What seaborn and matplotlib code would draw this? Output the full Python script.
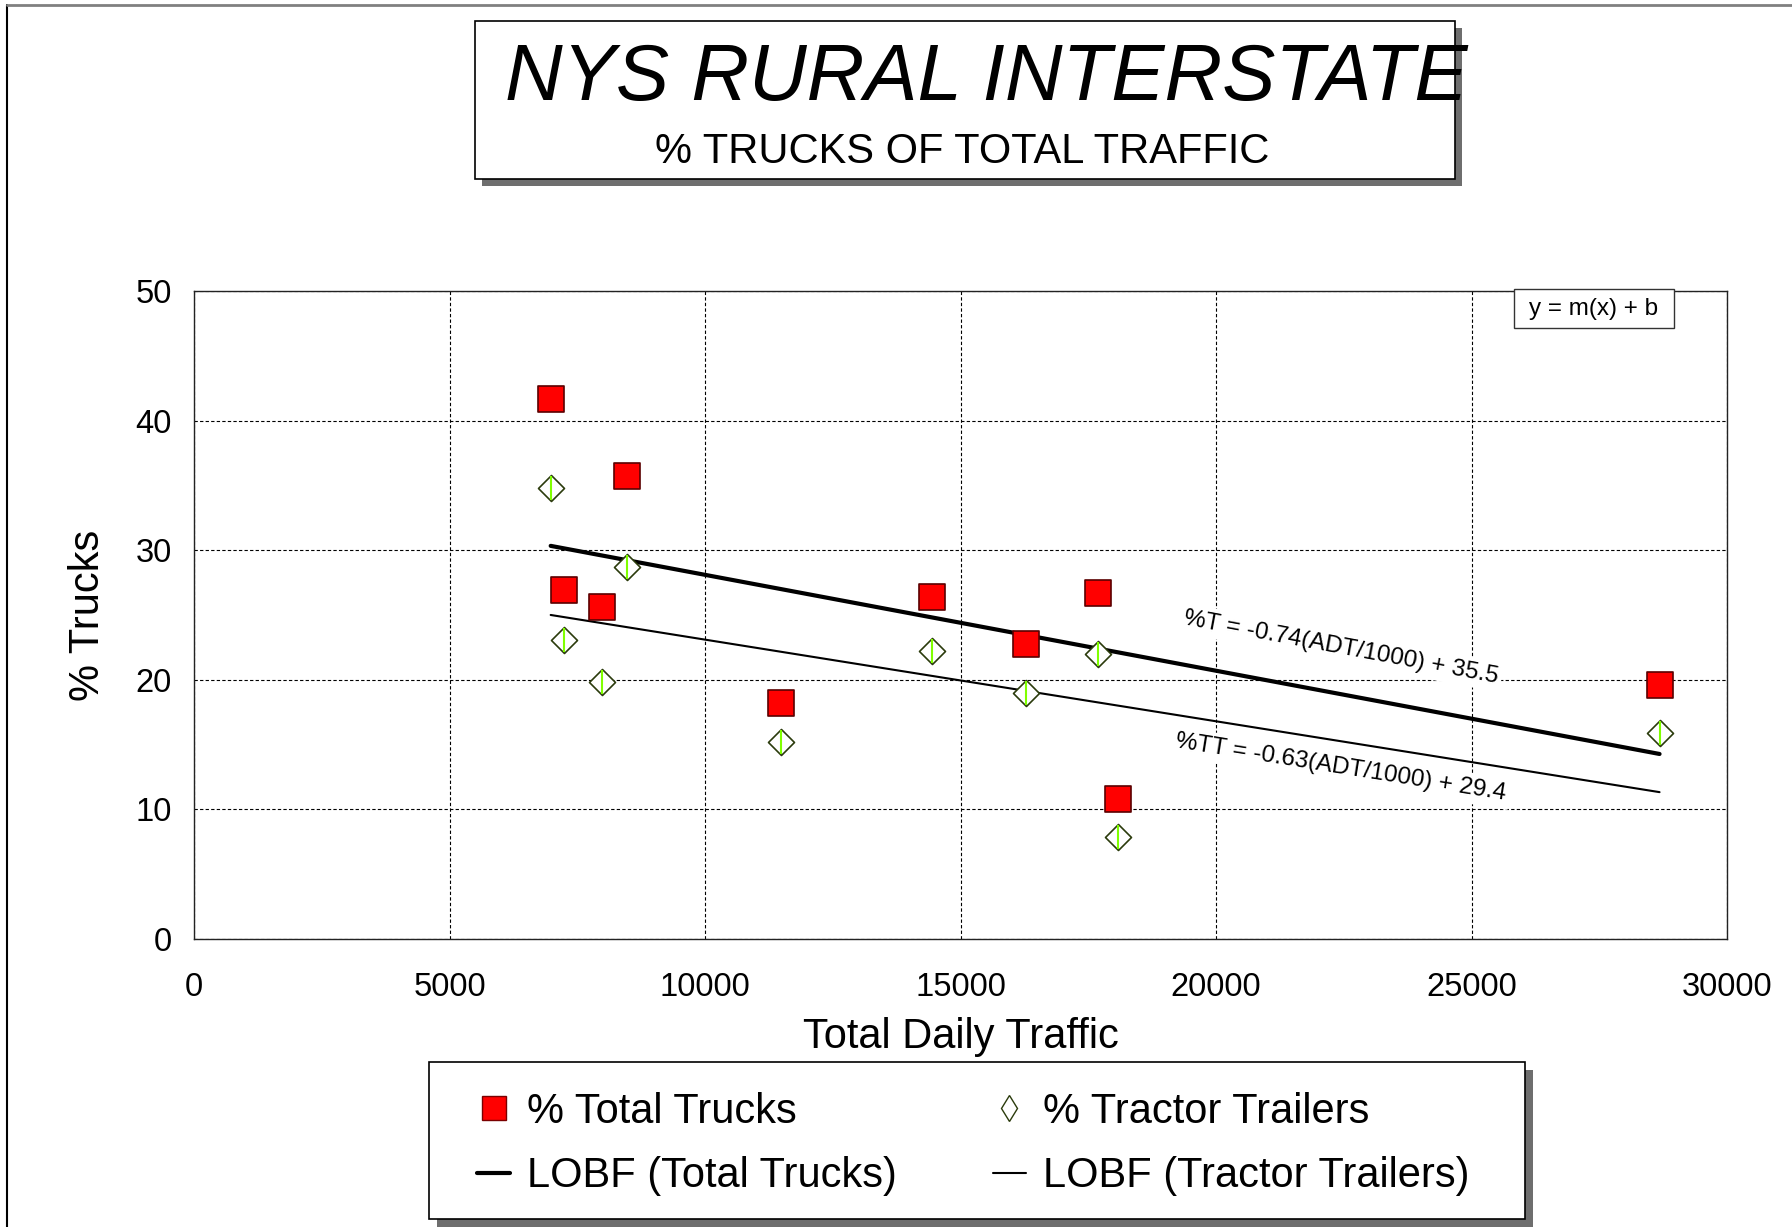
import numpy as np
import pandas as pd
import matplotlib.pyplot as plt
import seaborn as sns
from matplotlib.patches import Rectangle
from matplotlib.lines import Line2D

# data
traffic = [6980, 8480, 7250, 7990, 11480, 14450, 16290, 17700, 18080, 28680]
pct_total = [41.7, 35.7, 26.9, 25.6, 18.2, 26.4, 22.8, 26.7, 10.8, 19.6]
pct_tt = [34.8, 28.7, 23.1, 19.8, 15.2, 22.2, 19.0, 22.0, 7.9, 15.9]
fit_names = ['Total Trucks', 'Tractor Trailers']
fit_slope = [-0.74, -0.63]
fit_icpt = [35.5, 29.4]
fit_labels = ['%T = -0.74(ADT/1000) + 35.5', '%TT = -0.63(ADT/1000) + 29.4']
x_ticks = [0, 5000, 10000, 15000, 20000, 25000, 30000]
y_ticks = [0, 10, 20, 30, 40, 50]

df = pd.DataFrame({'traffic': traffic, 'total': pct_total, 'tt': pct_tt})
xs = np.array([df['traffic'].min(), df['traffic'].max()])
fits = pd.DataFrame({
    'traffic': np.concatenate([xs, xs]),
    'pct': np.concatenate([fit_icpt[0] + fit_slope[0] * xs / 1000,
                           fit_icpt[1] + fit_slope[1] * xs / 1000]),
    'fit': [fit_names[0]] * 2 + [fit_names[1]] * 2,
})

sns.set_style('white')
plt.rcParams['font.family'] = ['Liberation Sans', 'DejaVu Sans']
plt.rcParams['text.color'] = 'black'
plt.rcParams['axes.labelcolor'] = 'black'
plt.rcParams['xtick.color'] = 'black'
plt.rcParams['ytick.color'] = 'black'

fig = plt.figure(figsize=(17.92, 12.27), dpi=100)
W, H = 1792, 1227
ax = fig.add_axes([194 / W, 1 - 939 / H, 1533 / W, 648 / H])

ax.set(xlim=(0, 30000), ylim=(0, 50))
ax.set_xticks(x_ticks)
ax.set_yticks(y_ticks)
ax.set_axisbelow(True)
ax.grid(True, color='black', linestyle=(0, (3, 2)), linewidth=0.8)
for s in ax.spines.values():
    s.set_color('#222222')
    s.set_linewidth(1.0)
ax.tick_params(length=0, labelsize=23.5)
ax.tick_params(axis='x', pad=24)
ax.tick_params(axis='y', pad=16)

# fit lines
sub = fits[fits['fit'] == fit_names[0]]
sns.lineplot(data=sub, x='traffic', y='pct', color='black', linewidth=3.0, ax=ax, zorder=3)
sub = fits[fits['fit'] == fit_names[1]]
sns.lineplot(data=sub, x='traffic', y='pct', color='black', linewidth=1.5, ax=ax, zorder=3)

# points
sns.scatterplot(data=df, x='traffic', y='total', marker='s', s=350, color='#ff0000',
                edgecolor='#5a0000', linewidth=1.2, ax=ax, zorder=5)
sns.scatterplot(data=df, x='traffic', y='tt', marker='D', s=175, color='white',
                edgecolor='#2b3b0c', linewidth=1.2, ax=ax, zorder=5)
ax.scatter(df['traffic'], df['tt'], marker='|', s=300, color='#80ff00', linewidths=1.5, zorder=6)

ax.set_xlabel('Total Daily Traffic', fontsize=30, labelpad=10)
ax.set_ylabel('% Trucks', fontsize=30, labelpad=20)

# equation labels along the fit lines
lab_x = [22440, 22440]
lab_y = [22.5, 13.2]
for i in range(2):
    p1 = ax.transData.transform((xs[0], fit_icpt[i] + fit_slope[i] * xs[0] / 1000))
    p2 = ax.transData.transform((xs[1], fit_icpt[i] + fit_slope[i] * xs[1] / 1000))
    ang = np.degrees(np.arctan2(p2[1] - p1[1], p2[0] - p1[0]))
    ax.text(lab_x[i], lab_y[i], fit_labels[i], fontsize=17.5, rotation=ang,
            rotation_mode='anchor', ha='center', va='center', zorder=2,
            bbox=dict(facecolor='white', edgecolor='none', pad=3))

# y = m(x) + b box
fig.patches.append(Rectangle((1514 / W, 1 - 328 / H), 160 / W, 39 / H, transform=fig.transFigure,
                             facecolor='white', edgecolor='#333333', linewidth=1, zorder=10))
fig.text(1594 / W, 1 - 309 / H, 'y = m(x) + b', fontsize=17.5, ha='center', va='center', zorder=11)

# title box with shadow
sh = 7
fig.patches.append(Rectangle(((475 + sh) / W, 1 - (179 + sh) / H), 980 / W, 158 / H,
                             transform=fig.transFigure, facecolor='#6e6e6e', edgecolor='none', zorder=1))
fig.patches.append(Rectangle((475 / W, 1 - 179 / H), 980 / W, 158 / H, transform=fig.transFigure,
                             facecolor='white', edgecolor='black', linewidth=1.2, zorder=2))
fig.text(986 / W, 1 - 100 / H, 'NYS RURAL INTERSTATE', fontsize=57.5, style='italic',
         ha='center', va='baseline', zorder=3)
fig.text(962 / W, 1 - 163 / H, '% TRUCKS OF TOTAL TRAFFIC', fontsize=30,
         ha='center', va='baseline', zorder=3)

# legend box with shadow
sh = 8
fig.patches.append(Rectangle(((429 + sh) / W, 1 - (1219 + sh) / H), 1096 / W, 157 / H,
                             transform=fig.transFigure, facecolor='#6e6e6e', edgecolor='none', zorder=1))
fig.patches.append(Rectangle((429 / W, 1 - 1219 / H), 1096 / W, 157 / H, transform=fig.transFigure,
                             facecolor='white', edgecolor='black', linewidth=1.2, zorder=2))
handles = [
    Line2D([], [], linestyle='none', marker='s', markersize=17, markerfacecolor='#ff0000',
           markeredgecolor='#7a0000'),
    Line2D([], [], color='black', linewidth=3.0),
    Line2D([], [], linestyle='none', marker='d', markersize=13, markerfacecolor='white',
           markeredgecolor='#2b3b0c'),
    Line2D([], [], color='black', linewidth=1.5),
]
labels = ['% Total Trucks', 'LOBF (Total Trucks)', '% Tractor Trailers', 'LOBF (Tractor Trailers)']
leg = fig.legend(handles, labels, ncol=2, loc='center', bbox_to_anchor=(973 / W, 1 - 1144 / H),
                 frameon=False, fontsize=30, handlelength=0.8, handletextpad=0.4,
                 columnspacing=2.3, labelspacing=0.58)
leg.set_zorder(5)

# outer frame
fig.add_artist(Line2D([7 / W, 7 / W], [0, 1 - 5 / H], color='black', linewidth=1.5,
                      transform=fig.transFigure))
fig.add_artist(Line2D([7 / W, 1], [1 - 5 / H, 1 - 5 / H], color='#808080', linewidth=2,
                      transform=fig.transFigure))

fig.savefig('out.png', dpi=100)
